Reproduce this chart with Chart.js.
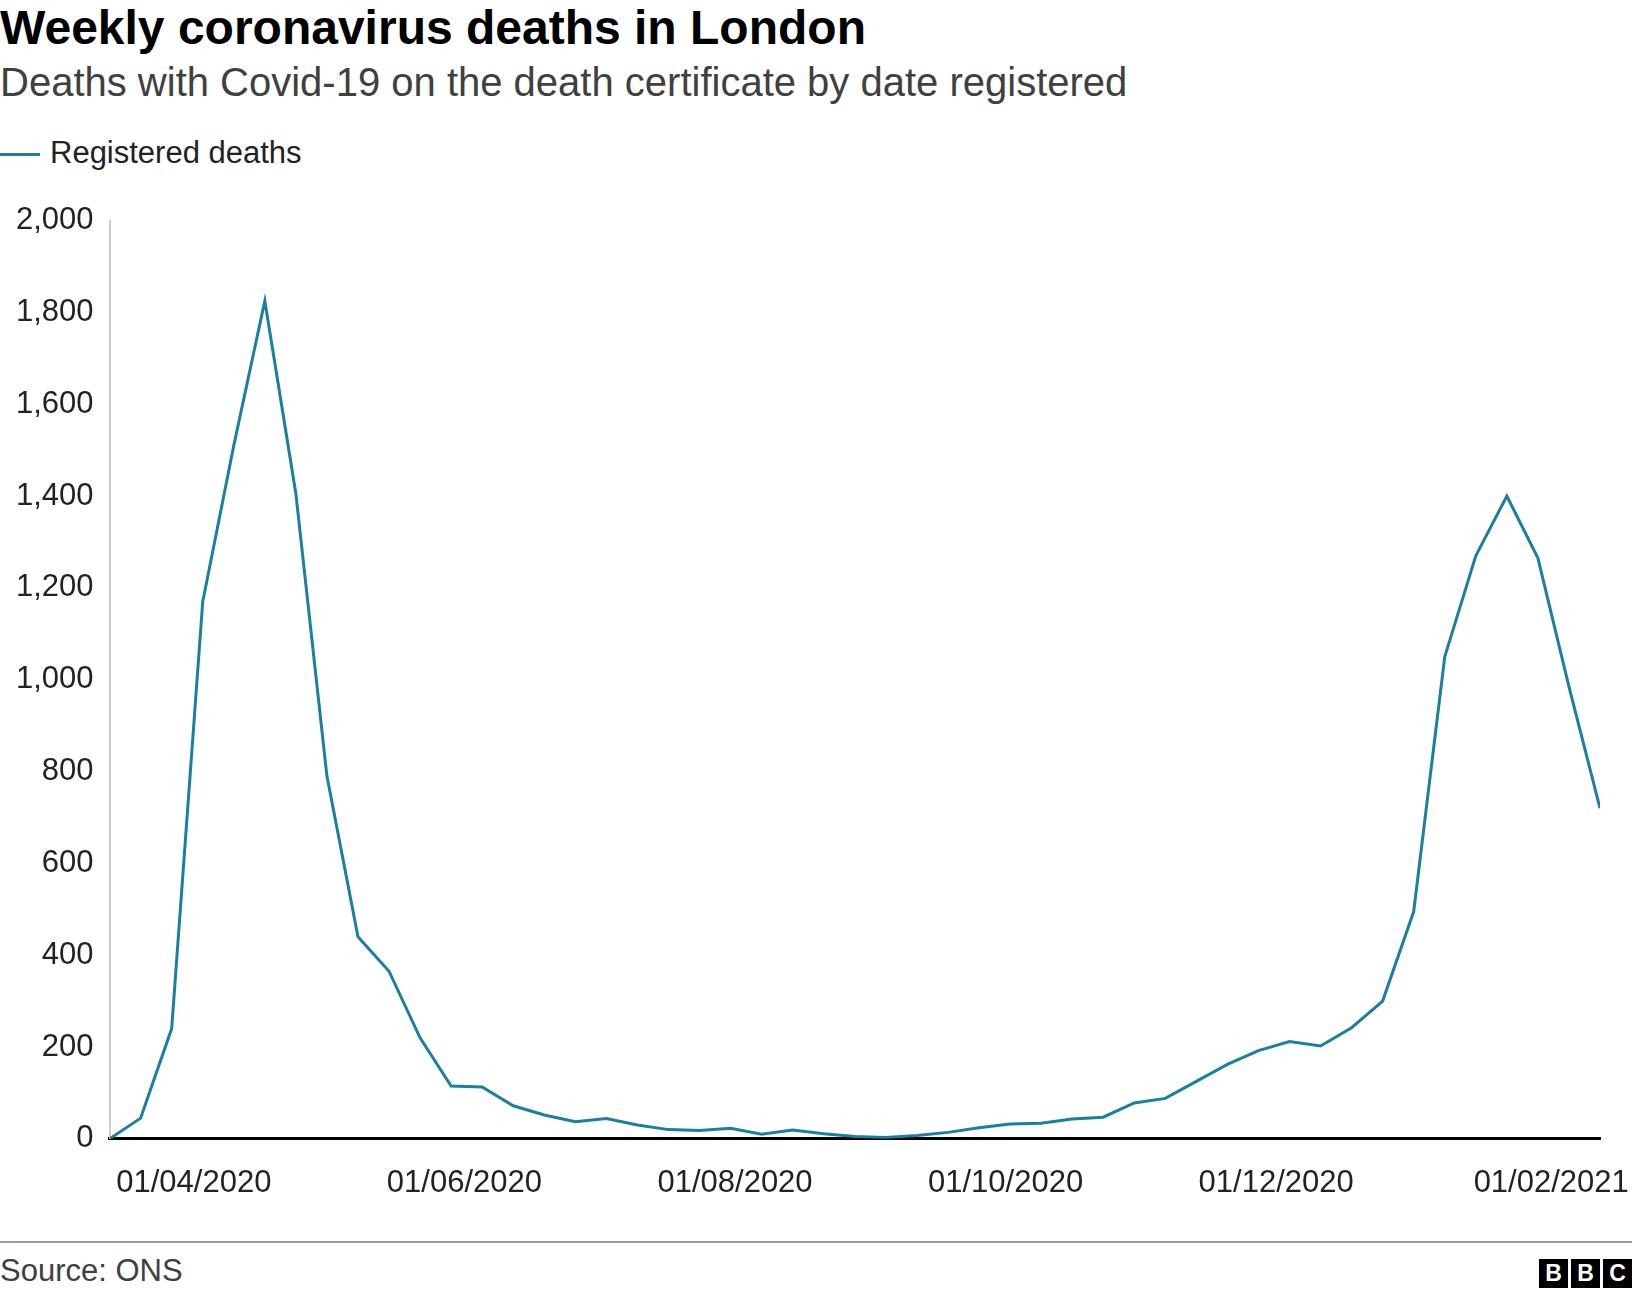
<!DOCTYPE html>
<html><head><meta charset="utf-8">
<script src="https://cdn.jsdelivr.net/npm/chart.js@4/dist/chart.umd.min.js"></script>
<style>
body{margin:0;width:1632px;height:1298px;background:#fff;font-family:"Liberation Sans",Arial,sans-serif;position:relative;overflow:hidden}
#t{position:absolute;left:0;top:0px;font-size:48px;font-weight:bold;color:#000}
#s{position:absolute;left:0;top:60px;font-size:40px;color:#404040}
#lg{position:absolute;left:0;top:135px;font-size:31px;color:#222}
#lg span{display:inline-block;width:40px;height:3px;background:#1a7fa0;vertical-align:middle;margin-right:10px}
#c{position:absolute;left:0;top:186px;width:1682px;height:1042px}
#f{position:absolute;left:0;top:1241px;width:1632px;height:2px;background:#999}
#src{position:absolute;left:0;top:1253px;font-size:31px;color:#404040}
#bbc{position:absolute;right:0;top:1259px;display:flex;gap:3px}
#bbc div{width:29px;height:29px;background:#000;color:#fff;font-weight:bold;font-size:23px;text-align:center;line-height:29px}
</style></head><body>
<div id="t">Weekly coronavirus deaths in London</div>
<div id="s">Deaths with Covid-19 on the death certificate by date registered</div>
<div id="lg"><span></span>Registered deaths</div>
<div id="c"><canvas id="cv"></canvas></div>
<div id="f"></div>
<div id="src">Source: ONS</div>
<div id="bbc"><div>B</div><div>B</div><div>C</div></div>
<script>
const startDate = "2020-03-13";
const deaths = [0,45,240,1170,1510,1825,1405,790,440,365,220,115,113,72,52,37,44,30,20,18,23,10,19,11,5,3,7,14,24,32,34,43,47,78,88,125,162,192,212,202,242,300,495,1050,1270,1400,1265,985,720];
const tickDates = ["2020-04-01","2020-06-01","2020-08-01","2020-10-01","2020-12-01","2021-02-01"];
const tickLabels = ["01/04/2020","01/06/2020","01/08/2020","01/10/2020","01/12/2020","01/02/2021"];
const dayOf = d => Math.round((Date.parse(d)-Date.parse(startDate))/86400000);
const pts = deaths.map((v,i)=>({x:i*7,y:v}));
const tickDays = tickDates.map(dayOf);
new Chart(document.getElementById('cv'),{
 type:'line',
 data:{datasets:[{data:pts,borderColor:'#1a7fa0',borderWidth:3,pointRadius:0,tension:0}]},
 options:{responsive:true,maintainAspectRatio:false,animation:false,
  layout:{padding:{top:17,right:82,left:0}},
  plugins:{legend:{display:false},tooltip:{enabled:false}},
  scales:{
   x:{type:'linear',min:0,max:336,
    afterBuildTicks:a=>{a.ticks=tickDays.map(v=>({value:v}));},
    ticks:{autoSkip:false,maxRotation:0,padding:26,color:'#222',font:{size:31,family:'Liberation Sans'},
      callback:(v)=>tickLabels[tickDays.indexOf(v)]},
    grid:{display:false,drawTicks:false},border:{color:'#000',width:3}},
   y:{min:0,max:2000,
    ticks:{stepSize:200,padding:16,color:'#222',font:{size:31,family:'Liberation Sans'},
     callback:v=>v.toLocaleString('en-GB')},
    grid:{display:false,drawTicks:false},border:{color:'#ccc',width:2}}
  }}
});
</script>
</body></html>
